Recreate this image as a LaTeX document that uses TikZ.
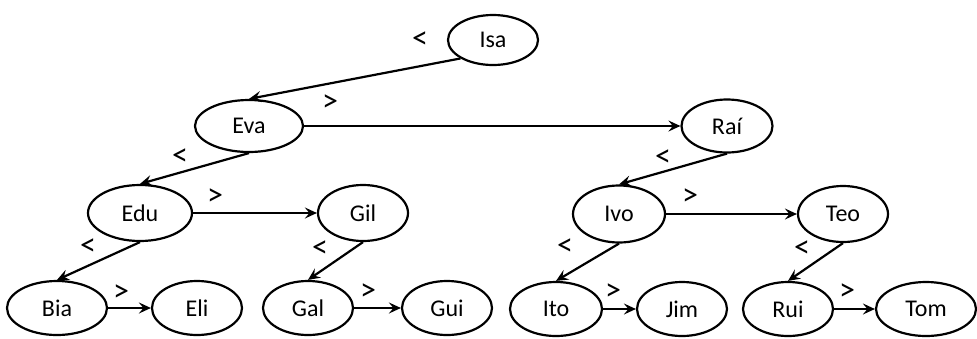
\documentclass[tikz,border=0pt]{standalone}
\usepackage{fontspec}
\setmainfont{Carlito}
\usetikzlibrary{shapes.geometric,arrows.meta}
\begin{document}
\begin{tikzpicture}[x=1pt,y=-1pt,
  nd/.style={draw,ellipse,line width=2.2pt,inner sep=0pt,minimum width=#1,minimum height=54pt,font=\fontsize{24}{26}\selectfont},
  nd/.default=92pt,
  lnk/.style={line width=2.2pt,-{Stealth[length=12pt,width=11pt,inset=4.5pt]}},
  lbl/.style={font=\fontsize{32}{34}\selectfont,inner sep=0pt}]
\useasboundingbox (0,0) rectangle (977,338);
\node[nd=90pt,minimum height=50pt] (isa) at (493,40) {Isa};
\node[nd=108pt,minimum height=52pt] (eva) at (249,126) {Eva};
\node[nd=91pt,minimum height=53pt] (rai) at (727,126) {Raí};
\node[nd=104pt,minimum height=56pt] (edu) at (140,213) {Edu};
\node[nd=90pt,minimum height=56pt] (gil) at (363,213) {Gil};
\node[nd=92pt,minimum height=57pt] (ivo) at (619,214) {Ivo};
\node[nd=90pt,minimum height=56pt] (teo) at (843,214) {Teo};
\node[nd=100pt] (bia) at (57,308) {Bia};
\node[nd=90pt] (eli) at (197,308) {Eli};
\node[nd=90pt] (gal) at (308,308) {Gal};
\node[nd=90pt] (gui) at (447,308) {Gui};
\node[nd=92pt] (ito) at (556,309) {Ito};
\node[nd=90pt] (jim) at (682,309) {Jim};
\node[nd=90pt] (rui) at (788,309) {Rui};
\node[nd=100pt] (tom) at (926,309) {Tom};
\draw[lnk] (isa.south west) -- (eva.north);
\draw[lnk] (eva) -- (rai);
\draw[lnk] (eva.south) -- (edu.north);
\draw[lnk] (edu) -- (gil);
\draw[lnk] (edu.south) -- (bia.north);
\draw[lnk] (gil.south) -- (gal.north);
\draw[lnk] (bia) -- (eli);
\draw[lnk] (gal) -- (gui);
\draw[lnk] (rai.south) -- (ivo.north);
\draw[lnk] (ivo) -- (teo);
\draw[lnk] (ivo.south) -- (ito.north);
\draw[lnk] (teo.south) -- (rui.north);
\draw[lnk] (ito) -- (jim);
\draw[lnk] (rui) -- (tom);
\node[lbl] (l1) at (420,40) {<};
\node[lbl] (l2) at (330,103) {>};
\node[lbl] (l3) at (180,157) {<};
\node[lbl] (l4) at (215,197) {>};
\node[lbl] (l5) at (88,247) {<};
\node[lbl] (l6) at (320,249) {<};
\node[lbl] (l7) at (121,293) {>};
\node[lbl] (l8) at (368,292) {>};
\node[lbl] (l9) at (663,158) {<};
\node[lbl] (l10) at (690,197) {>};
\node[lbl] (l11) at (565,247) {<};
\node[lbl] (l12) at (802,249) {<};
\node[lbl] (l13) at (613,292) {>};
\node[lbl] (l14) at (847,292) {>};
\end{tikzpicture}
\end{document}
